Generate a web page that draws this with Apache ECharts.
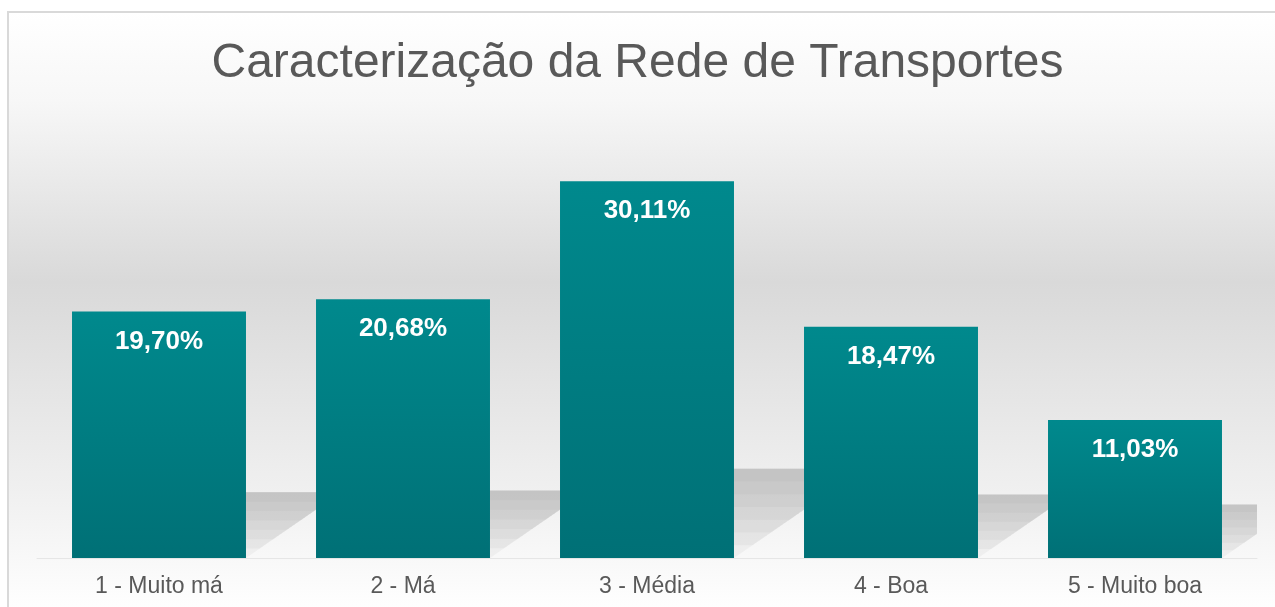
<!DOCTYPE html>
<html>
<head>
<meta charset="utf-8">
<script src="https://cdn.jsdelivr.net/npm/echarts@6/dist/echarts.min.js"></script>
<style>
  html, body { margin: 0; padding: 0; background: #fff; }
  #chart { width: 1275px; height: 607px; }
</style>
</head>
<body>
<div id="chart"></div>
<script>
// categorias e percentagens
const categorias = ['1 - Muito má', '2 - Má', '3 - Média', '4 - Boa', '5 - Muito boa']
const percentagens = [19.70, 20.68, 30.11, 18.47, 11.03]
const yMax = 35

const myChart = echarts.init(document.getElementById('chart'))

const fmt = v => v.toFixed(2).replace('.', ',') + '%'

// sombra em perspectiva atrás de cada barra (várias camadas para esbater)
function renderSombra(params, api) {
  const base = api.coord([api.value(0), 0])
  const topo = api.coord([api.value(0), api.value(1)])
  const larg = api.size([1, 0])[0] * 0.713
  const altBarra = base[1] - topo[1]
  const h = 48 + 0.00029 * altBarra * altBarra
  const dx = h * 1.45
  const xL = base[0] - larg / 2
  const xR = base[0] + larg / 2
  const y0 = base[1]
  const camadas = []
  const n = 7
  for (let k = 0; k < n; k++) {
    const t = k / n // fração a partir da base
    camadas.push({
      type: 'polygon',
      shape: {
        points: [[xL + dx * t, y0 - h * t], [xR + dx * t, y0 - h * t], [xR + dx, y0 - h], [xL + dx, y0 - h]]
      },
      style: { fill: 'rgba(150,150,150,0.09)' }
    })
  }
  return { type: 'group', children: camadas }
}

const option = {
  backgroundColor: '#ffffff',
  graphic: [
    {
      type: 'rect',
      left: 7, top: 11,
      shape: { width: 1280, height: 600 },
      style: {
        fill: {
          type: 'linear', x: 0, y: 0, x2: 0, y2: 1,
          colorStops: [
            { offset: 0, color: '#ffffff' },
            { offset: 0.15, color: '#f7f7f7' },
            { offset: 0.45, color: '#d9d9d9' },
            { offset: 0.8, color: '#f0f0f0' },
            { offset: 1, color: '#ffffff' }
          ]
        },
        stroke: '#d9d9d9',
        lineWidth: 2
      },
      z: -10,
      silent: true
    }
  ],
  title: {
    text: 'Caracterização da Rede de Transportes',
    left: 'center',
    top: 35,
    textStyle: {
      fontFamily: 'Liberation Sans',
      fontSize: 48,
      fontWeight: 'normal',
      color: '#595959'
    }
  },
  grid: { left: 37, right: 18, top: 120, bottom: 49 },
  xAxis: {
    type: 'category',
    data: categorias,
    axisTick: { show: false },
    axisLine: { lineStyle: { color: '#e6e6e6', width: 1 } },
    axisLabel: {
      margin: 17,
      fontFamily: 'Liberation Sans',
      fontSize: 23,
      color: '#595959'
    }
  },
  yAxis: {
    type: 'value',
    min: 0,
    max: yMax,
    show: false,
    splitLine: { show: false }
  },
  series: [
    {
      type: 'custom',
      renderItem: renderSombra,
      data: percentagens.map((v, i) => [i, v]),
      clip: true,
      silent: true,
      z: 1
    },
    {
      type: 'bar',
      data: percentagens,
      barWidth: '71.3%',
      z: 3,
      itemStyle: {
        color: {
          type: 'linear', x: 0, y: 0, x2: 0, y2: 1,
          colorStops: [
            { offset: 0, color: '#00898d' },
            { offset: 1, color: '#007076' }
          ]
        }
      },
      label: {
        show: true,
        position: 'insideTop',
        distance: 17,
        formatter: p => fmt(p.value),
        fontFamily: 'Liberation Sans',
        fontSize: 26,
        fontWeight: 'bold',
        color: '#ffffff'
      }
    }
  ]
}

myChart.setOption(option)
</script>
</body>
</html>
